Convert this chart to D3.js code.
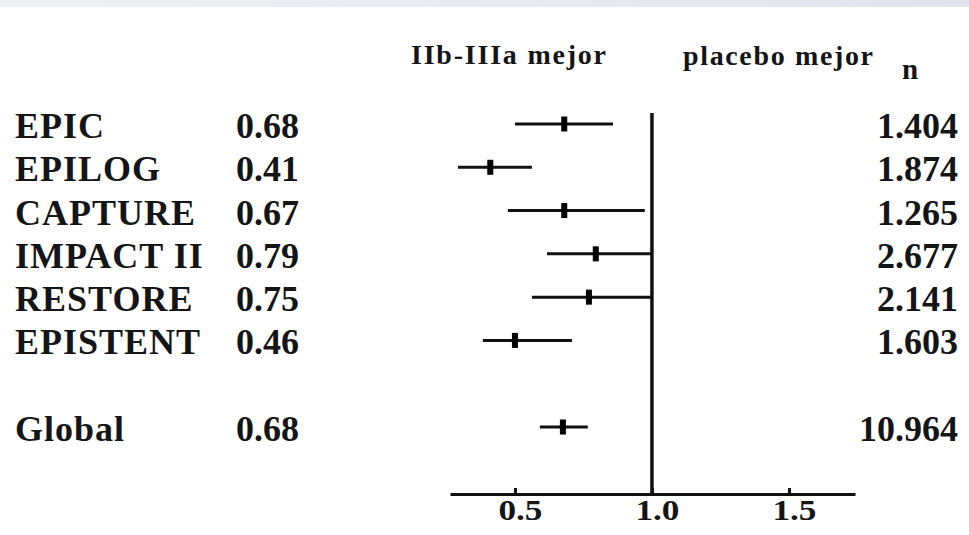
<!DOCTYPE html>
<html>
<head>
<meta charset="utf-8">
<script src="https://cdn.jsdelivr.net/npm/d3@7"></script>
<style>
  html, body { margin: 0; padding: 0; background: #fff; }
  svg { display: block; }
  text { font-family: "Liberation Serif", "Times New Roman", serif; font-weight: bold; fill: #151515; }
</style>
</head>
<body>
<svg id="chart" width="969" height="535"></svg>
<script>
// ---- data ----
const studies   = ["EPIC", "EPILOG", "CAPTURE", "IMPACT II", "RESTORE", "EPISTENT", "", "Global"];
const orLabels  = ["0.68", "0.41", "0.67", "0.79", "0.75", "0.46", "", "0.68"];
const orPoint   = [0.68, 0.41, 0.68, 0.795, 0.77, 0.50, null, 0.675];
const ciLow     = [0.50, 0.292, 0.474, 0.617, 0.562, 0.383, null, 0.591];
const ciHigh    = [0.858, 0.562, 0.974, 1.0, 1.0, 0.708, null, 0.766];
const nLabels   = ["1.404", "1.874", "1.265", "2.677", "2.141", "1.603", "", "10.964"];
const tickValues = [0.5, 1.0, 1.5];
const tickLabels = ["0.5", "1.0", "1.5"];
const headerLeft = "IIb-IIIa mejor";
const headerRight = "placebo mejor";
const headerN = "n";

const svg = d3.select("#chart");

// top light band
const defs = svg.append("defs");
const grad = defs.append("linearGradient").attr("id", "band").attr("x1", 0).attr("x2", 1).attr("y1", 0).attr("y2", 0);
grad.append("stop").attr("offset", "0%").attr("stop-color", "#eef1f6");
grad.append("stop").attr("offset", "60%").attr("stop-color", "#e6eaf1");
grad.append("stop").attr("offset", "100%").attr("stop-color", "#dfe4ec");
svg.append("rect").attr("x", 0).attr("y", 0).attr("width", 969).attr("height", 7).attr("fill", "url(#band)");

// scales
const x = d3.scaleLinear().domain([0.263, 1.741]).range([450, 855]);
const y = d3.scalePoint().domain(d3.range(studies.length)).range([124, 427]);

// headers
svg.append("text").attr("x", 411).attr("y", 64).attr("font-size", 28)
  .attr("textLength", 195).attr("lengthAdjust", "spacing").text(headerLeft);
svg.append("text").attr("x", 683).attr("y", 65).attr("font-size", 28)
  .attr("textLength", 190).attr("lengthAdjust", "spacing").text(headerRight);
svg.append("text").attr("x", 902).attr("y", 79).attr("font-size", 29).text(headerN);

// axis
const axis = d3.axisBottom(x).tickValues(tickValues)
  .tickFormat((d, i) => tickLabels[i]).tickSizeInner(-6).tickSizeOuter(0).tickPadding(5);
const gAxis = svg.append("g").attr("transform", "translate(0,494)").call(axis);
gAxis.select(".domain").attr("stroke", "#111").attr("stroke-width", 3);
gAxis.selectAll(".tick line").attr("stroke", "#111").attr("stroke-width", 3);
gAxis.selectAll(".tick text")
  .attr("font-family", "Liberation Serif, Times New Roman, serif")
  .attr("font-weight", "bold").attr("font-size", 29).attr("fill", "#151515")
  .attr("dx", 5).attr("textLength", 44).attr("lengthAdjust", "spacingAndGlyphs");

// reference line at 1.0
svg.append("line").attr("x1", x(1)).attr("x2", x(1)).attr("y1", 113).attr("y2", 494)
  .attr("stroke", "#111").attr("stroke-width", 3.5);

// rows
const rows = d3.range(studies.length).filter(i => studies[i] !== "");
const g = svg.append("g");

g.selectAll("text.study").data(rows).join("text").attr("class", "study")
  .attr("x", 15).attr("y", i => y(i) + 14).attr("font-size", 36)
  .attr("letter-spacing", 1).text(i => studies[i]);
g.selectAll("text.or").data(rows).join("text").attr("class", "or")
  .attr("x", 236).attr("y", i => y(i) + 14).attr("font-size", 36).text(i => orLabels[i]);
g.selectAll("text.n").data(rows).join("text").attr("class", "n")
  .attr("x", 958).attr("y", i => y(i) + 14).attr("font-size", 36).attr("text-anchor", "end").text(i => nLabels[i]);

g.selectAll("line.ci").data(rows).join("line").attr("class", "ci")
  .attr("x1", i => x(ciLow[i])).attr("x2", i => x(ciHigh[i]))
  .attr("y1", i => y(i)).attr("y2", i => y(i))
  .attr("stroke", "#111").attr("stroke-width", 3);
g.selectAll("rect.pt").data(rows).join("rect").attr("class", "pt")
  .attr("x", i => x(orPoint[i]) - 3).attr("y", i => y(i) - 7.5)
  .attr("width", 6).attr("height", 15).attr("fill", "#000");
</script>
</body>
</html>
